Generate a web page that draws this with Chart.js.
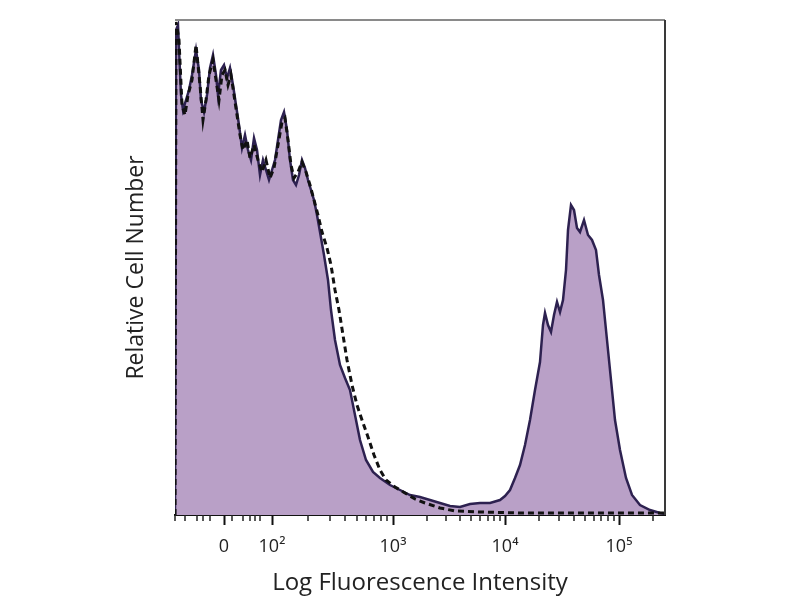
<!DOCTYPE html>
<html>
<head>
<meta charset="utf-8">
<script src="https://cdn.jsdelivr.net/npm/chart.js@4.4.1/dist/chart.umd.min.js"></script>
<style>
html,body{margin:0;padding:0;background:#fff;}
#wrap{width:800px;height:600px;}
</style>
</head>
<body>
<div id="wrap"><canvas id="c" width="800" height="600"></canvas></div>
<script>
// Channel positions (0-490) and relative counts (0-495)
const stainedChannel = [0,1,3,6,8,11,14,17,21,24,26,29,32,35,38,41,43,46,49,52,55,58,61,64,67,70,73,76,79,82,85,88,91,94,97,100,103,106,109,112,115,118,121,124,127,130,133,136,139,142,145,149,153,156,160,165,170,175,180,185,191,198,205,215,225,235,245,255,265,275,285,295,305,315,325,330,335,340,345,350,355,360,365,368,370,373,376,379,382,385,388,391,393,396,399,402,405,409,413,417,421,424,428,432,436,440,445,451,457,465,475,485,490];
const stainedCount = [0,485,490,420,405,415,425,440,465,445,415,403,420,447,460,440,420,445,450,437,447,430,410,390,367,380,365,355,377,365,340,355,345,335,345,355,375,395,403,385,355,335,330,340,355,347,335,325,315,300,283,260,235,205,175,150,137,125,100,75,55,43,37,30,25,20,18,15,12,9,8,11,12,12,15,19,25,37,50,70,95,125,153,190,202,190,183,200,213,203,215,245,285,310,305,287,283,295,280,275,265,240,215,175,135,95,65,37,20,10,5,2,1];

const controlChannel = [0,1,4,7,10,13,17,21,25,28,31,34,38,41,44,47,50,53,56,59,62,65,68,72,75,79,83,87,91,95,99,103,107,110,113,116,119,123,127,131,135,139,143,147,152,156,160,164,168,172,177,182,187,193,199,205,211,220,230,240,250,265,280,305,345,405,465,490];
const controlCount = [0,493,475,410,400,420,435,470,430,395,415,440,455,435,415,440,445,430,440,420,400,380,365,375,357,370,355,343,355,337,347,370,393,397,375,350,337,343,353,343,330,315,300,283,267,250,225,205,180,155,130,110,95,78,60,45,35,28,22,16,12,7,4,3,2,2,2,2];

// Axis ticks (channel positions) and labels
const tickValues = [49,97,218,330,444];
const tickLabels = ['0','10\u00B2','10\u00B3','10\u2074','10\u2075'];
const minorTicks = [0,10,22,28,35,57,68,75,80,85,133,155,170,182,191,199,206,212,252,271,285,296,305,313,319,325,364,384,399,410,419,426,433,439,478];

const toPoints = (xs, ys) => xs.map((x, i) => ({x: x, y: ys[i]}));

const framePlugin = {
  id: 'frame',
  afterDraw(chart) {
    const {ctx, chartArea: a, scales} = chart;
    ctx.save();
    ctx.lineWidth = 2;
    ctx.strokeStyle = '#8a8a8a';
    ctx.beginPath();
    ctx.moveTo(a.left, a.top);
    ctx.lineTo(a.right, a.top);
    ctx.stroke();
    ctx.strokeStyle = '#3a3a3a';
    ctx.beginPath();
    ctx.moveTo(a.right, a.top);
    ctx.lineTo(a.right, a.bottom);
    ctx.stroke();
    // minor ticks
    const xs = scales.x;
    ctx.strokeStyle = '#222';
    ctx.lineWidth = 1.5;
    minorTicks.forEach(v => {
      const px = xs.getPixelForValue(v);
      ctx.beginPath();
      ctx.moveTo(px, a.bottom);
      ctx.lineTo(px, a.bottom + 6);
      ctx.stroke();
    });
    ctx.restore();
  }
};

new Chart(document.getElementById('c'), {
  type: 'line',
  data: {
    datasets: [
      {
        label: 'Control',
        data: toPoints(controlChannel, controlCount),
        borderColor: '#111',
        borderWidth: 3,
        borderDash: [6, 4],
        fill: false,
        pointRadius: 0,
        tension: 0
      },
      {
        label: 'Stained',
        data: toPoints(stainedChannel, stainedCount),
        borderColor: '#2d2150',
        borderWidth: 2.5,
        backgroundColor: 'rgb(185,160,199)',
        fill: 'origin',
        pointRadius: 0,
        tension: 0
      }
    ]
  },
  options: {
    responsive: false,
    animation: false,
    layout: { padding: { left: 121, right: 135, top: 20, bottom: 0 } },
    plugins: { legend: { display: false }, tooltip: { enabled: false } },
    scales: {
      x: {
        type: 'linear',
        min: 0,
        max: 490,
        afterBuildTicks(scale) { scale.ticks = tickValues.map(v => ({value: v})); },
        afterFit(scale) { scale.height = 85; },
        ticks: {
          autoSkip: false,
          maxRotation: 0,
          padding: 11,
          color: '#222',
          font: { family: 'Open Sans', size: 18 },
          callback: (value, index) => tickLabels[index]
        },
        grid: { display: true, drawOnChartArea: false, drawTicks: true, tickLength: 10, tickColor: '#111', tickWidth: 2 },
        border: { display: true, color: '#111', width: 2 },
        title: {
          display: true,
          text: 'Log Fluorescence Intensity',
          color: '#222',
          font: { family: 'Open Sans', size: 24 },
          padding: { top: 0, bottom: 2 }
        }
      },
      y: {
        type: 'linear',
        min: 0,
        max: 495,
        afterFit(scale) { scale.width = 54; },
        ticks: { display: false },
        grid: { display: false },
        border: { display: false },
        title: {
          display: true,
          text: 'Relative Cell Number',
          color: '#222',
          font: { family: 'Open Sans', size: 23 },
          padding: { top: 2, bottom: 0 }
        }
      }
    }
  },
  plugins: [framePlugin]
});
</script>
</body>
</html>
